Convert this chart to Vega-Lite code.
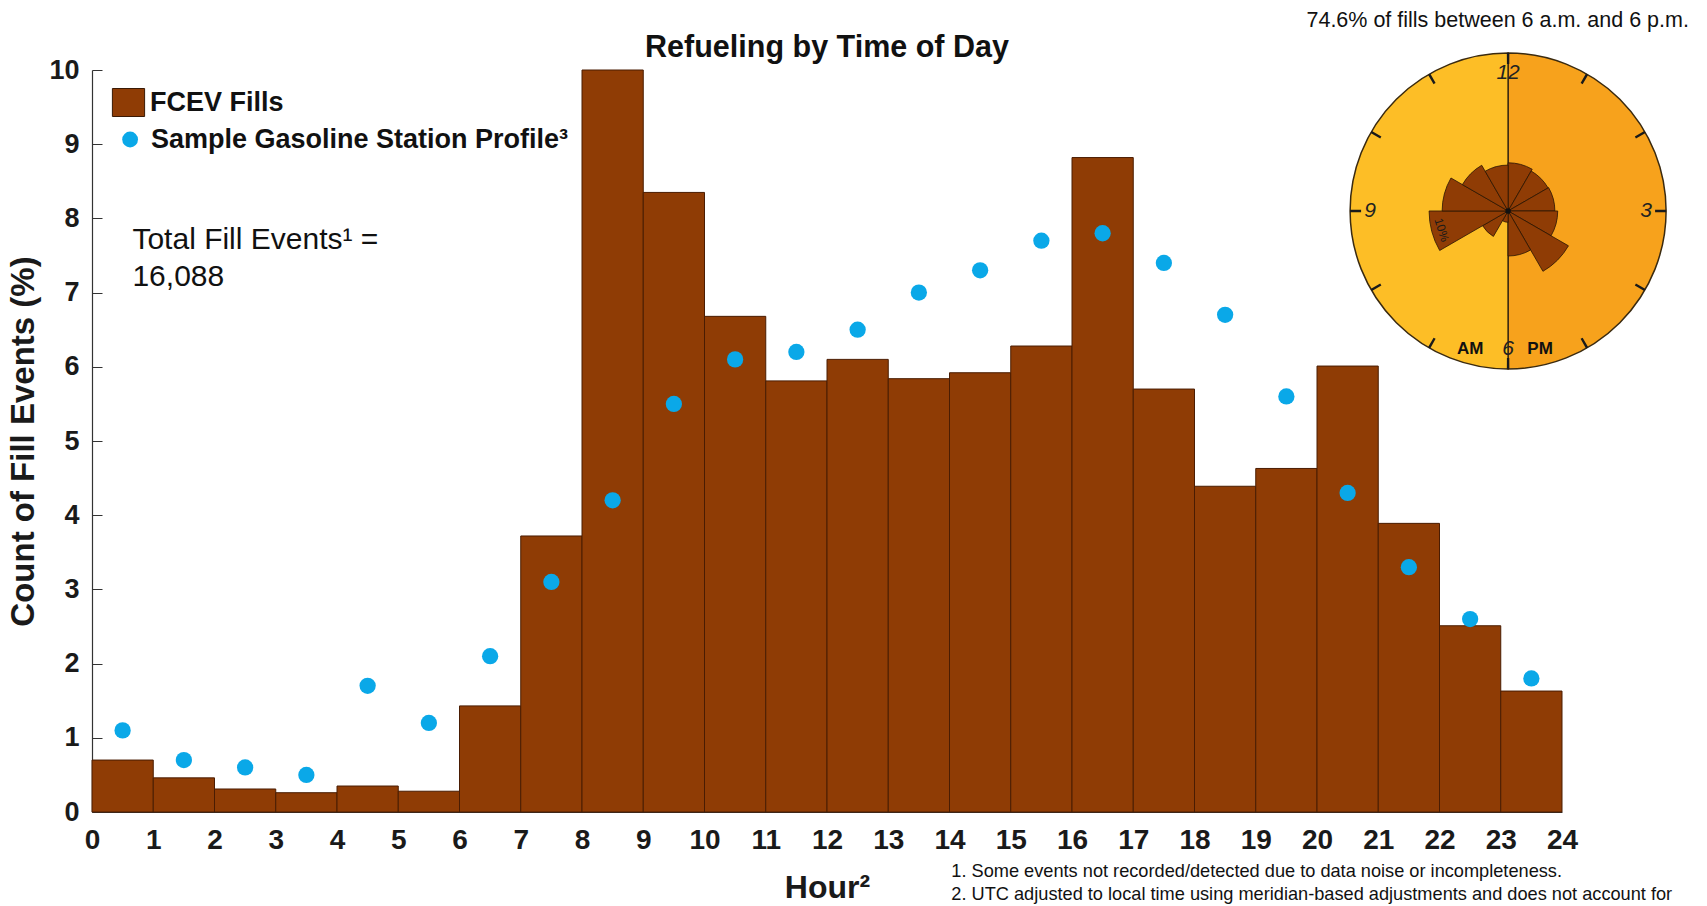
{
  "$schema": "https://vega.github.io/schema/vega-lite/v6.json",
  "width": 1470,
  "height": 742,
  "autosize": {"type": "none"},
  "padding": {"left": 92, "top": 70, "right": 145, "bottom": 94},
  "background": "white",
  "config": {"font": "Liberation Sans", "view": {"stroke": null}},
  "datasets": {
    "hourly": [
      {"hour": 0, "end": 1, "mid": 0.5, "fcev": 0.70, "gas": 1.1},
      {"hour": 1, "end": 2, "mid": 1.5, "fcev": 0.46, "gas": 0.7},
      {"hour": 2, "end": 3, "mid": 2.5, "fcev": 0.31, "gas": 0.6},
      {"hour": 3, "end": 4, "mid": 3.5, "fcev": 0.26, "gas": 0.5},
      {"hour": 4, "end": 5, "mid": 4.5, "fcev": 0.35, "gas": 1.7},
      {"hour": 5, "end": 6, "mid": 5.5, "fcev": 0.28, "gas": 1.2},
      {"hour": 6, "end": 7, "mid": 6.5, "fcev": 1.43, "gas": 2.1},
      {"hour": 7, "end": 8, "mid": 7.5, "fcev": 3.72, "gas": 3.1},
      {"hour": 8, "end": 9, "mid": 8.5, "fcev": 10.0, "gas": 4.2},
      {"hour": 9, "end": 10, "mid": 9.5, "fcev": 8.35, "gas": 5.5},
      {"hour": 10, "end": 11, "mid": 10.5, "fcev": 6.68, "gas": 6.1},
      {"hour": 11, "end": 12, "mid": 11.5, "fcev": 5.81, "gas": 6.2},
      {"hour": 12, "end": 13, "mid": 12.5, "fcev": 6.10, "gas": 6.5},
      {"hour": 13, "end": 14, "mid": 13.5, "fcev": 5.84, "gas": 7.0},
      {"hour": 14, "end": 15, "mid": 14.5, "fcev": 5.92, "gas": 7.3},
      {"hour": 15, "end": 16, "mid": 15.5, "fcev": 6.28, "gas": 7.7},
      {"hour": 16, "end": 17, "mid": 16.5, "fcev": 8.82, "gas": 7.8},
      {"hour": 17, "end": 18, "mid": 17.5, "fcev": 5.70, "gas": 7.4},
      {"hour": 18, "end": 19, "mid": 18.5, "fcev": 4.39, "gas": 6.7},
      {"hour": 19, "end": 20, "mid": 19.5, "fcev": 4.63, "gas": 5.6},
      {"hour": 20, "end": 21, "mid": 20.5, "fcev": 6.01, "gas": 4.3},
      {"hour": 21, "end": 22, "mid": 21.5, "fcev": 3.89, "gas": 3.3},
      {"hour": 22, "end": 23, "mid": 22.5, "fcev": 2.51, "gas": 2.6},
      {"hour": 23, "end": 24, "mid": 23.5, "fcev": 1.63, "gas": 1.8}
    ],
    "rose": [
      {"hour": 12, "c0": 0, "c1": 1, "pct": 6.10},
      {"hour": 13, "c0": 1, "c1": 2, "pct": 5.84},
      {"hour": 14, "c0": 2, "c1": 3, "pct": 5.92},
      {"hour": 15, "c0": 3, "c1": 4, "pct": 6.28},
      {"hour": 16, "c0": 4, "c1": 5, "pct": 8.82},
      {"hour": 17, "c0": 5, "c1": 6, "pct": 5.70},
      {"hour": 6, "c0": 6, "c1": 7, "pct": 1.43},
      {"hour": 7, "c0": 7, "c1": 8, "pct": 3.72},
      {"hour": 8, "c0": 8, "c1": 9, "pct": 10.0},
      {"hour": 9, "c0": 9, "c1": 10, "pct": 8.35},
      {"hour": 10, "c0": 10, "c1": 11, "pct": 6.68},
      {"hour": 11, "c0": 11, "c1": 12, "pct": 5.81}
    ],
    "halves": [
      {"half": "PM", "t0": 0, "t1": 6},
      {"half": "AM", "t0": 6, "t1": 12}
    ],
    "ticks": [
      {"h": 0}, {"h": 1}, {"h": 2}, {"h": 3}, {"h": 4}, {"h": 5},
      {"h": 6}, {"h": 7}, {"h": 8}, {"h": 9}, {"h": 10}, {"h": 11}
    ],
    "clocklabels": [
      {"label": "12", "h": 0},
      {"label": "3", "h": 3},
      {"label": "6", "h": 6},
      {"label": "9", "h": 9}
    ],
    "one": [{"k": 1}]
  },
  "layer": [
    {
      "data": {"name": "hourly"},
      "mark": {"type": "bar", "stroke": "#4a1c02", "strokeWidth": 1, "fill": "#8F3C05"},
      "encoding": {
        "x": {
          "field": "hour", "type": "quantitative",
          "scale": {"domain": [0, 24], "nice": false, "zero": false},
          "title": "Hour²",
          "axis": {
            "values": [0,1,2,3,4,5,6,7,8,9,10,11,12,13,14,15,16,17,18,19,20,21,22,23,24],
            "format": "d",
            "labelAngle": 0, "labelFontSize": 28, "labelFontWeight": "bold", "labelColor": "#1a1a1a",
            "labelPadding": 14, "tickSize": 0, "domainColor": "#333333", "domainWidth": 1.2,
            "grid": false, "labelFlush": false,
            "titleFontSize": 32, "titleFontWeight": "bold", "titleColor": "#1a1a1a", "titlePadding": 18
          }
        },
        "x2": {"field": "end"},
        "y": {
          "field": "fcev", "type": "quantitative",
          "scale": {"domain": [0, 10], "nice": false},
          "title": "Count of Fill Events (%)",
          "axis": {
            "values": [0,1,2,3,4,5,6,7,8,9,10],
            "format": "d",
            "labelFontSize": 27, "labelFontWeight": "bold", "labelColor": "#1a1a1a",
            "labelPadding": 23, "tickSize": -10, "tickColor": "#333333", "domainColor": "#333333", "domainWidth": 1.2,
            "grid": false, "labelFlush": false,
            "titleFontSize": 33, "titleFontWeight": "bold", "titleColor": "#1a1a1a", "titlePadding": 8
          }
        },
        "y2": {"datum": 0},
        "color": {
          "datum": "FCEV Fills", "type": "nominal",
          "scale": {"domain": ["FCEV Fills"], "range": ["#8F3C05"]},
          "legend": {
            "title": null, "orient": "none", "legendX": 22, "legendY": 18,
            "labelFontSize": 27, "labelFontWeight": "bold", "labelColor": "#111111",
            "labelOffset": 7, "labelLimit": 700,
            "symbolType": "M-1.15,-1H1.15V1H-1.15Z", "symbolSize": 784,
            "symbolStrokeColor": "#3a1a05", "symbolStrokeWidth": 1, "symbolOpacity": 1
          }
        }
      }
    },
    {
      "data": {"name": "hourly"},
      "mark": {"type": "point", "filled": true, "size": 265, "opacity": 1, "color": "#0AA8E8"},
      "encoding": {
        "x": {"field": "mid", "type": "quantitative"},
        "y": {"field": "gas", "type": "quantitative"},
        "shape": {
          "datum": "Sample Gasoline Station Profile³", "type": "nominal",
          "scale": {"domain": ["Sample Gasoline Station Profile³"], "range": ["circle"]},
          "legend": {
            "title": null, "orient": "none", "legendX": 24.6, "legendY": 56,
            "labelFontSize": 27, "labelFontWeight": "bold", "labelColor": "#111111",
            "labelOffset": 7.4, "labelLimit": 700,
            "symbolSize": 250, "symbolFillColor": "#0AA8E8", "symbolStrokeWidth": 0, "symbolOpacity": 1
          }
        }
      }
    },
    {
      "data": {"name": "one"},
      "mark": {"type": "text", "align": "center", "baseline": "middle", "fontSize": 30.5, "fontWeight": "bold", "color": "#111111"},
      "encoding": {
        "x": {"datum": 12},
        "y": {"datum": 10.3},
        "text": {"value": "Refueling by Time of Day"}
      }
    },
    {
      "data": {"name": "one"},
      "mark": {"type": "text", "align": "left", "baseline": "top", "fontSize": 30, "lineHeight": 37, "color": "#111111"},
      "encoding": {
        "x": {"datum": 0.66},
        "y": {"datum": 7.91},
        "text": {"value": ["Total Fill Events¹ =", "16,088"]}
      }
    },
    {
      "data": {"name": "one"},
      "mark": {"type": "text", "align": "left", "baseline": "top", "fontSize": 18.2, "lineHeight": 22.5, "color": "#111111"},
      "encoding": {
        "x": {"datum": 14.03},
        "y": {"datum": -0.69},
        "text": {"value": ["1. Some events not recorded/detected due to data noise or incompleteness.", "2. UTC adjusted to local time using meridian-based adjustments and does not account for"]}
      }
    },
    {
      "data": {"name": "one"},
      "mark": {"type": "text", "align": "center", "baseline": "middle", "fontSize": 21.5, "color": "#111111"},
      "encoding": {
        "x": {"datum": 22.95},
        "y": {"datum": 10.66},
        "text": {"value": "74.6% of fills between 6 a.m. and 6 p.m."}
      }
    },
    {
      "data": {"name": "halves"},
      "mark": {"type": "arc", "radius": 158, "stroke": "#3a2a10", "strokeWidth": 1.5},
      "encoding": {
        "x": {"datum": 23.12},
        "y": {"datum": 8.1},
        "theta": {"field": "t0", "type": "quantitative", "scale": {"domain": [0, 12], "range": [0, 6.283185307]}},
        "theta2": {"field": "t1"},
        "fill": {"field": "half", "type": "nominal", "scale": {"domain": ["AM", "PM"], "range": ["#FDBE26", "#F7A21C"]}, "legend": null}
      }
    },
    {
      "data": {"name": "ticks"},
      "mark": {"type": "arc", "radius": 158, "radius2": 147, "thetaOffset": -0.008, "theta2Offset": 0.008, "fill": "#1a1a1a"},
      "encoding": {
        "x": {"datum": 23.12},
        "y": {"datum": 8.1},
        "theta": {"field": "h", "type": "quantitative"},
        "theta2": {"field": "h"}
      }
    },
    {
      "data": {"name": "rose"},
      "mark": {"type": "arc", "fill": "#8F3C05", "stroke": "#2a1505", "strokeWidth": 0.8},
      "encoding": {
        "x": {"datum": 23.12},
        "y": {"datum": 8.1},
        "theta": {"field": "c0", "type": "quantitative"},
        "theta2": {"field": "c1"},
        "radius": {"field": "pct", "type": "quantitative", "scale": {"type": "linear", "domain": [0, 20], "range": [0, 158], "zero": true}}
      }
    },
    {
      "data": {"name": "one"},
      "mark": {"type": "point", "filled": true, "shape": "circle", "size": 30, "color": "#111111", "opacity": 1},
      "encoding": {
        "x": {"datum": 23.12},
        "y": {"datum": 8.1}
      }
    },
    {
      "data": {"name": "clocklabels"},
      "mark": {"type": "text", "radius": 138, "fontSize": 21, "fontStyle": "italic", "color": "#222222"},
      "encoding": {
        "x": {"datum": 23.12},
        "y": {"datum": 8.1},
        "theta": {"field": "h", "type": "quantitative"},
        "text": {"field": "label"}
      }
    },
    {
      "data": {"name": "one"},
      "mark": {"type": "text", "radius": 138, "dx": -38, "fontSize": 17, "fontWeight": "bold", "color": "#111111"},
      "encoding": {
        "x": {"datum": 23.12},
        "y": {"datum": 8.1},
        "theta": {"datum": 6},
        "text": {"value": "AM"}
      }
    },
    {
      "data": {"name": "one"},
      "mark": {"type": "text", "radius": 138, "dx": 32, "fontSize": 17, "fontWeight": "bold", "color": "#111111"},
      "encoding": {
        "x": {"datum": 23.12},
        "y": {"datum": 8.1},
        "theta": {"datum": 6},
        "text": {"value": "PM"}
      }
    },
    {
      "data": {"name": "one"},
      "mark": {"type": "text", "radius": 69, "angle": 72, "fontSize": 12, "color": "#1a1a1a"},
      "encoding": {
        "x": {"datum": 23.12},
        "y": {"datum": 8.1},
        "theta": {"datum": 8.47},
        "text": {"value": "10%"}
      }
    }
  ]
}
